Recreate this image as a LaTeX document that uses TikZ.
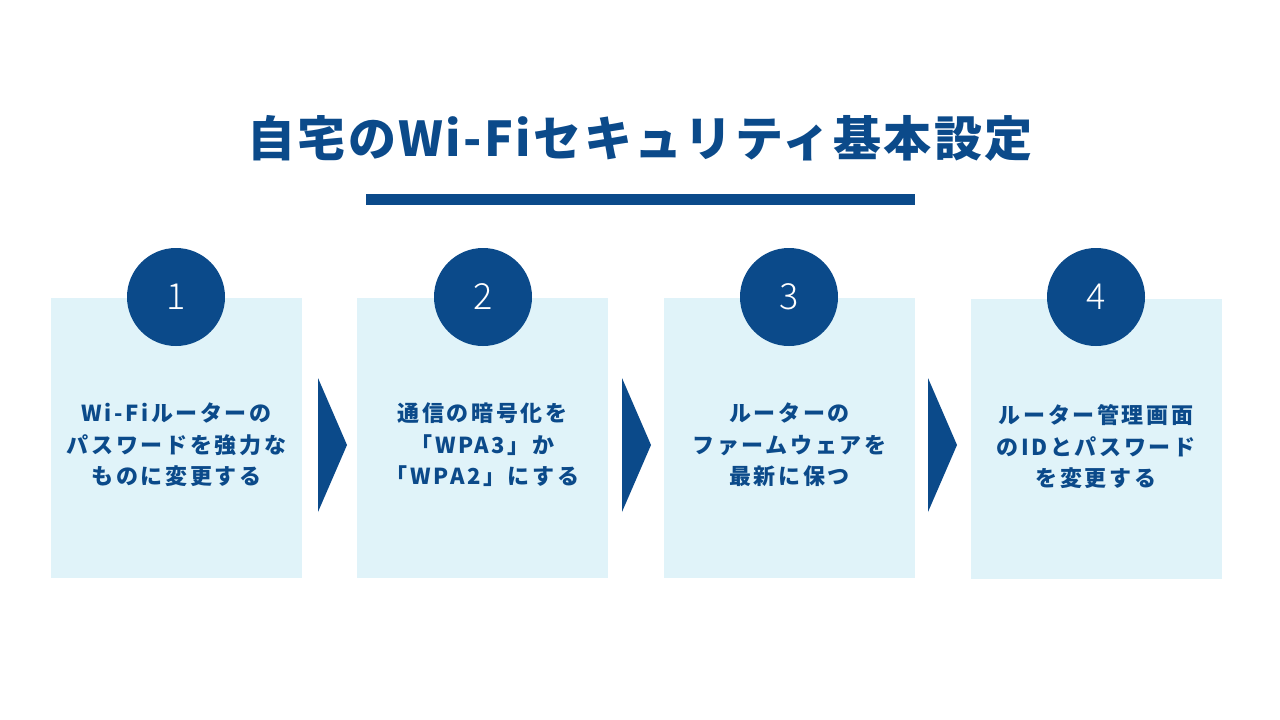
\documentclass[tikz,border=0pt]{standalone}
\usepackage{fontspec}
\setmainfont{Noto Sans CJK JP}
\newfontfamily\numfont{Noto Sans CJK JP Light}
\usepackage{tikz}
\definecolor{navy}{HTML}{0B4A8A}
\definecolor{pale}{HTML}{E0F3F9}

\begin{document}
\begin{tikzpicture}[x=1pt, y=-1pt,
	box/.style={fill=pale, minimum width=251pt, minimum height=280pt, inner sep=0pt},
	badge/.style={circle, fill=navy, minimum size=98pt, inner sep=0pt, text=white, font=\numfont\fontsize{36}{36}\selectfont},
	steptext/.style={text=navy, align=center, inner sep=0pt, font=\bfseries\fontsize{22}{31.5}\selectfont\addfontfeature{LetterSpace=12}},
	chevron/.style={fill=navy}]
	\useasboundingbox (0,0) rectangle (1280,720);
	% title and bar
	\node [text=navy, font=\bfseries\fontsize{48}{48}\selectfont\addfontfeature{LetterSpace=5}] (Title) at (640, 138) {自宅のWi-Fiセキュリティ基本設定};
	\fill [navy] (366, 194) rectangle (915, 205);
	% boxes
	\node [box] (Box1) at (176.5, 438) {};
	\node [box] (Box2) at (482.5, 438) {};
	\node [box] (Box3) at (789.5, 438) {};
	\node [box] (Box4) at (1096, 438.5) {};
	\node [badge] (Num1) at (176, 297) {1};
	\node [badge] (Num2) at (483, 297) {2};
	\node [badge] (Num3) at (789, 297) {3};
	\node [badge] (Num4) at (1096, 297) {4};
	\node [steptext] (Text1) at (176.5, 445) {Wi-Fiルーターの\\パスワードを強力な\\ものに変更する};
	\node [steptext] (Text2) at (482.5, 445) {通信の暗号化を\\「WPA3」か\\「WPA2」にする};
	\node [steptext] (Text3) at (789.5, 445) {ルーターの\\ファームウェアを\\最新に保つ};
	\node [steptext] (Text4) at (1096, 447) {ルーター管理画面\\のIDとパスワード\\を変更する};
	% arrows between boxes
	\foreach \x in {318, 622, 928}
		\fill [chevron] (\x, 378) -- (\x+29, 445) -- (\x, 512) -- cycle;
\end{tikzpicture}
\end{document}
